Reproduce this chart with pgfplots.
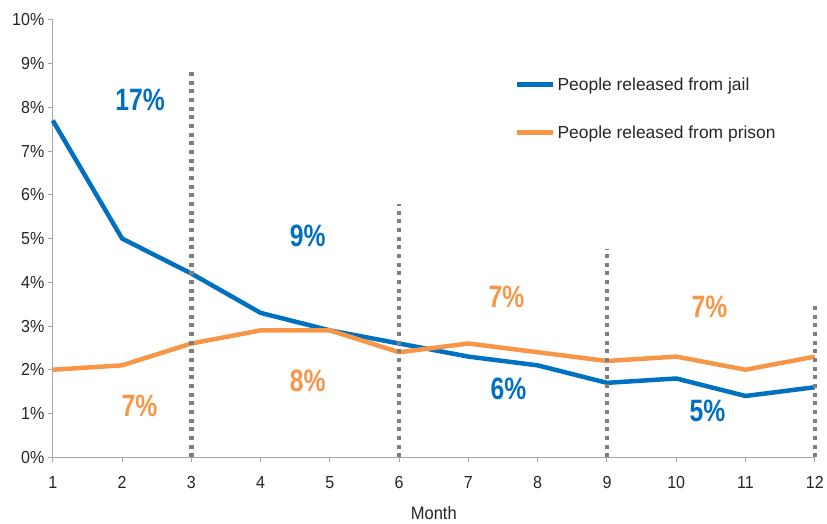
\documentclass[border=0pt]{standalone}
\usepackage{pgfplots}
\pgfplotsset{compat=1.18}
\usepackage{fontspec}
\setmainfont{Liberation Sans}
\newfontfamily\bigfont[FakeStretch=0.8]{Liberation Sans Bold}
\newfontfamily\narrowfont[FakeStretch=0.92]{Liberation Sans}
\definecolor{jail}{HTML}{0070C0}
\definecolor{prison}{HTML}{F79646}
\definecolor{dotgray}{HTML}{7F7F7F}
\definecolor{axgray}{HTML}{A6A6A6}
\definecolor{txt}{HTML}{262626}
\begin{document}
\begin{tikzpicture}
\begin{axis}[
  scale only axis, width=765pt, height=439pt,
  xmin=1, xmax=12, ymin=0, ymax=10,
  axis x line=bottom, axis y line=left,
  axis line style={-, draw=axgray, line width=1pt},
  tick align=outside, major tick length=5pt,
  tick style={draw=axgray, line width=1pt},
  xtick={1,...,12}, ytick={0,...,10},
  yticklabels={0\%,1\%,2\%,3\%,4\%,5\%,6\%,7\%,8\%,9\%,10\%},
  /pgf/number format/assume math mode=true,
  ticklabel style={font=\narrowfont\fontsize{17.5}{20}\selectfont, text=txt},
  xticklabel style={yshift=-11pt},
  xlabel={Month}, xlabel style={font=\narrowfont\fontsize{18}{21}\selectfont, text=txt, yshift=-11pt},
  legend style={draw=none, fill=none, at={(axis cs:7.63,8.78)}, anchor=north west,
    font=\fontsize{17.5}{20}\selectfont, row sep=30pt, text=txt},
  legend cell align=left,
  legend image code/.code={\draw[#1] (0pt,0pt) -- (36pt,0pt);},
  clip=false,
]
\addplot[jail, line width=4.5pt, line join=round] coordinates {
(1,7.7)(2,5.0)(3,4.2)(4,3.3)(5,2.9)(6,2.6)(7,2.3)(8,2.1)(9,1.7)(10,1.8)(11,1.4)(12,1.6)};
\addlegendentry{People released from jail}
\addplot[prison, line width=4.5pt, line join=round] coordinates {
(1,2.0)(2,2.1)(3,2.6)(4,2.9)(5,2.9)(6,2.4)(7,2.6)(8,2.4)(9,2.2)(10,2.3)(11,2.0)(12,2.3)};
\addlegendentry{People released from prison}
\addplot[dotgray, line width=4.5pt, dash pattern=on 4pt off 4.7pt, forget plot] coordinates {(3,0)(3,8.8)};
\addplot[dotgray, line width=4.5pt, dash pattern=on 4pt off 4.7pt, forget plot] coordinates {(6,0)(6,5.8)};
\addplot[dotgray, line width=4.5pt, dash pattern=on 4pt off 4.7pt, forget plot] coordinates {(9,0)(9,4.76)};
\addplot[dotgray, line width=4.5pt, dash pattern=on 4pt off 4.7pt, forget plot] coordinates {(12,0)(12,3.5)};
\node[text=jail, font=\bigfont\fontsize{31}{34}\selectfont] at (axis cs:2.26,8.18) {17\%};
\node[text=jail, font=\bigfont\fontsize{31}{34}\selectfont] at (axis cs:4.68,5.06) {9\%};
\node[text=jail, font=\bigfont\fontsize{31}{34}\selectfont] at (axis cs:7.58,1.57) {6\%};
\node[text=jail, font=\bigfont\fontsize{31}{34}\selectfont] at (axis cs:10.45,1.05) {5\%};
\node[text=prison, font=\bigfont\fontsize{31}{34}\selectfont] at (axis cs:2.25,1.18) {7\%};
\node[text=prison, font=\bigfont\fontsize{31}{34}\selectfont] at (axis cs:4.68,1.75) {8\%};
\node[text=prison, font=\bigfont\fontsize{31}{34}\selectfont] at (axis cs:7.55,3.67) {7\%};
\node[text=prison, font=\bigfont\fontsize{31}{34}\selectfont] at (axis cs:10.48,3.44) {7\%};
\end{axis}
\path (current axis.south west) ++(-53pt,-66pt) rectangle ++(827pt,525pt);
\end{tikzpicture}
\end{document}
